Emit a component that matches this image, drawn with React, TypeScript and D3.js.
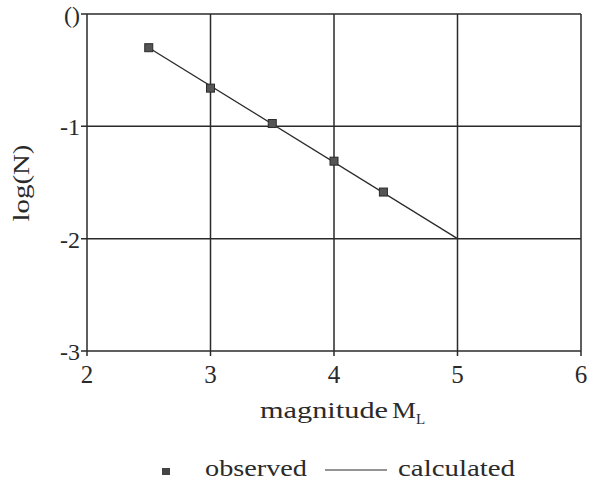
import React from 'react'
import * as d3 from 'd3'

// observed data
const obsMag = [2.5, 3.0, 3.5, 4.0, 4.4]
const obsLogN = [-0.3, -0.66, -0.975, -1.31, -1.585]

// calculated line end points
const calcMag = [2.5, 5.0]
const calcLogN = [-0.3, -2.0]

const xTicks = [2, 3, 4, 5, 6]
const yTicks = [0, -1, -2, -3]
const yTickLabels = ['()', '-1', '-2', '-3']

export default function App() {
    // svg size and plot box
    const width = 589
    const height = 489
    const left = 87
    const right = 581
    const top = 14
    const bottom = 351

    const xScale = d3.scaleLinear().domain([2, 6]).range([left, right])
    const yScale = d3.scaleLinear().domain([-3, 0]).range([bottom, top])

    const line = d3.line<number>()
        .x(function(d, i) { return xScale(calcMag[i]) })
        .y(function(d) { return yScale(d) })

    const font = '"Liberation Serif", "Times New Roman", serif'
    const ink = '#2a2a2a'

    return (
        <svg width={width} height={height} style={{ position: 'absolute', left: 0, top: 0, background: '#fff' }}>
            {/* grid */}
            {xTicks.map(t => (
                <line key={'gx' + t} x1={xScale(t)} x2={xScale(t)} y1={top} y2={bottom + 5} stroke={ink} strokeWidth={1.5} />
            ))}
            {yTicks.map(t => (
                <line key={'gy' + t} x1={left - 6} x2={right} y1={yScale(t)} y2={yScale(t)} stroke={ink} strokeWidth={1.5} />
            ))}

            {/* tick labels */}
            {xTicks.map(t => (
                <text key={'tx' + t} x={xScale(t)} y={bottom + 32} textAnchor="middle" fontFamily={font} fontSize={25} fill={ink}>{t}</text>
            ))}
            {yTicks.map((t, i) => (
                <text key={'ty' + t} x={left - 7} y={yScale(t) + 9} textAnchor="end" fontFamily={font} fontSize={24} fill={ink}>{yTickLabels[i]}</text>
            ))}

            {/* calculated line */}
            <path d={line(calcLogN) || ''} fill="none" stroke={ink} strokeWidth={1.3} />

            {/* observed points */}
            {obsMag.map((m, i) => (
                <rect key={'p' + i} x={xScale(m) - 4} y={yScale(obsLogN[i]) - 4} width={8} height={8} fill="#555" stroke={ink} strokeWidth={1} />
            ))}

            {/* axis titles */}
            <text x={260} y={418} textLength={128} lengthAdjust="spacingAndGlyphs" fontFamily={font} fontSize={24} fill={ink}>magnitude</text>
            <text x={392} y={418} textLength={24} lengthAdjust="spacingAndGlyphs" fontFamily={font} fontSize={24} fill={ink}>M</text>
            <text x={416} y={424} fontFamily={font} fontSize={15} fill={ink}>L</text>
            <text transform={`translate(29, 183) rotate(-90)`} textAnchor="middle" textLength={77} lengthAdjust="spacingAndGlyphs" fontFamily={font} fontSize={23} fill={ink}>log(N)</text>

            {/* legend */}
            <rect x={162} y={468} width={8} height={7} fill="#444" />
            <text x={205} y={476} textLength={102} lengthAdjust="spacingAndGlyphs" fontFamily={font} fontSize={24} fill={ink}>observed</text>
            <line x1={325} x2={387} y1={470} y2={470} stroke={ink} strokeWidth={1.2} />
            <text x={398} y={476} textLength={117} lengthAdjust="spacingAndGlyphs" fontFamily={font} fontSize={24} fill={ink}>calculated</text>
        </svg>
    )
}
